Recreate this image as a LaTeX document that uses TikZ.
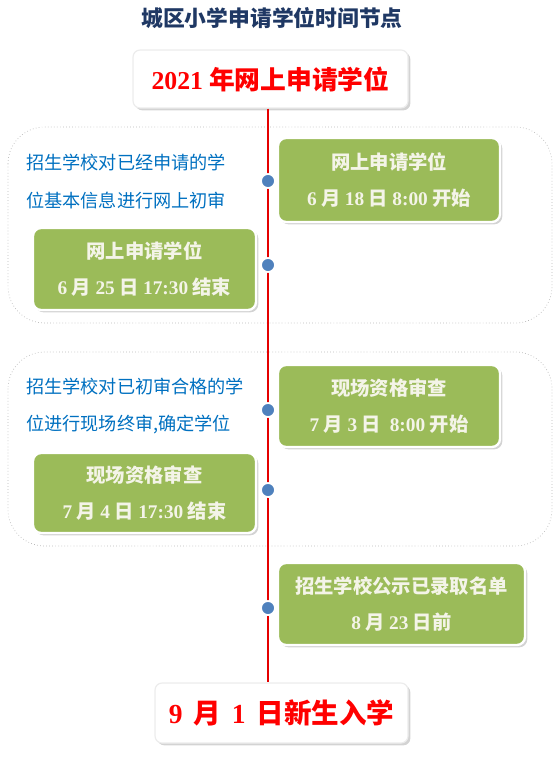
\documentclass[tikz,border=0pt]{standalone}
\usepackage{fontspec}
\setmainfont{Noto Sans CJK SC}
\newfontfamily\numfont{Liberation Serif}
\newcommand{\nm}[1]{{\numfont #1}}
\usetikzlibrary{shadows}
\definecolor{navytitle}{HTML}{1F3864}
\definecolor{stepgreen}{HTML}{9BBB59}
\definecolor{notetext}{HTML}{0070C0}
\definecolor{dotblue}{HTML}{4F81BD}
\definecolor{cream}{HTML}{F4F4E8}
\begin{document}
\begin{tikzpicture}[
    x=0.03cm, y=-0.03cm,
    endbox/.style={rectangle, rounded corners=6pt, fill=white, draw=gray!15, line width=1pt,
        drop shadow={opacity=0.35, shadow xshift=2pt, shadow yshift=-2pt},
        text=red, font=\fontsize{22}{26}\selectfont\bfseries},
    stepbox/.style={rectangle, rounded corners=7pt, fill=stepgreen, draw=white, line width=2pt,
        drop shadow={opacity=0.35, shadow xshift=2pt, shadow yshift=-2pt},
        text=cream, align=center, font=\fontsize{16.5}{30}\selectfont\bfseries},
    note/.style={anchor=west, text=notetext, inner sep=0pt, font=\fontsize{15.5}{18}\selectfont},
    group/.style={draw=gray!55, dotted, line width=0.6pt, rounded corners=1.1cm},
    tick/.style={circle, fill=dotblue, draw=white, line width=1.5pt, minimum size=0.42cm, inner sep=0pt}
]
\useasboundingbox (0,0) rectangle (558,764);

% Title
\node[text=navytitle, font=\fontsize{18.6}{20}\selectfont\bfseries] (title) at (272,18) {城区小学申请学位时间节点};

% Start and end
\node[endbox, minimum width=8.25cm, minimum height=1.74cm] (start) at (270.5,79) {\nm{2021} 年网上申请学位};
\node[endbox, minimum width=7.59cm, minimum height=1.8cm, font=\fontsize{23.5}{26}\selectfont\bfseries] (finish) at (281.5,713) {\nm{9}\ \,月\ \,\nm{1}\ \,日新生入学};

% Dotted groups
\draw[group] (8,127) rectangle (552,323);
\draw[group] (8,352) rectangle (552,546);

% Time line
\coordinate (axis) at (268,0);
\draw[red!90!black, line width=1.2pt] (start.south -| axis) -- (finish.north -| axis);

% Notes
\node[note] (n1a) at (26,163) {招生学校对已经申请的学};
\node[note] (n1b) at (26,201) {位基本信息进行网上初审};
\node[note] (n2a) at (26,387) {招生学校对已初审合格的学};
\node[note] (n2b) at (26,425) {位进行现场终审,确定学位};

% Steps
\node[stepbox, minimum width=6.66cm, minimum height=2.52cm] (s1) at (389,180) {网上申请学位\\\nm{6} 月 \nm{18} 日 \nm{8:00} 开始};
\node[stepbox, minimum width=6.69cm, minimum height=2.46cm] (s2) at (144.5,269) {网上申请学位\\\nm{6} 月 \nm{25} 日 \nm{17:30} 结束};
\node[stepbox, minimum width=6.66cm, minimum height=2.46cm] (s3) at (389,406) {现场资格审查\\\nm{7} 月 \nm{3} 日\ \ \nm{8:00} 开始};
\node[stepbox, minimum width=6.69cm, minimum height=2.4cm] (s4) at (144.5,493) {现场资格审查\\\nm{7} 月 \nm{4} 日 \nm{17:30} 结束};
\node[stepbox, minimum width=7.41cm, minimum height=2.46cm] (s5) at (401.5,604) {招生学校公示已录取名单\\\nm{8} 月 \nm{23} 日前};

% Ticks on the line
\node[tick] (t1) at (268,181) {};
\node[tick] (t2) at (268,265) {};
\node[tick] (t3) at (268,410) {};
\node[tick] (t4) at (268,490) {};
\node[tick] (t5) at (268,608) {};
\end{tikzpicture}
\end{document}
